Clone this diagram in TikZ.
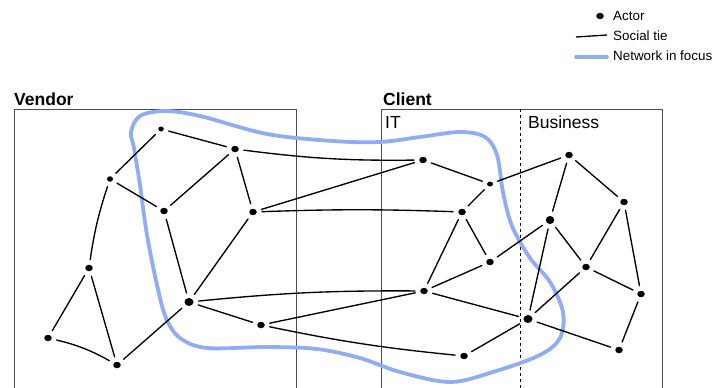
\documentclass[tikz,border=0pt]{standalone}
\usepackage{fontspec}
\setmainfont{Liberation Sans}
\usetikzlibrary{shapes.geometric}
\begin{document}
\begin{tikzpicture}[x=1pt,y=-1pt,
  actor/.style={ellipse,fill=black,inner sep=0pt,minimum width=7.5pt,minimum height=6.5pt},
  tie/.style={line width=1.35pt,line cap=round,shorten >=5pt,shorten <=5pt},
  frame/.style={draw=black!70,line width=0.7pt},
  focus/.style={draw=focusblue,line width=3.8pt},
  lbl/.style={font=\fontsize{17.5}{19}\selectfont\bfseries,anchor=base west,inner sep=0pt},
  sub/.style={font=\fontsize{17.5}{19}\selectfont,anchor=base west,inner sep=0pt},
  leg/.style={font=\fontsize{13.4}{15}\selectfont,anchor=west,inner sep=0pt}]
\definecolor{focusblue}{RGB}{143,172,245}
\useasboundingbox (0,0) rectangle (718,388);
% frames
\draw[frame] (14,389) -- (14,109) -- (296,109) -- (296,389);
\draw[frame] (381,389) -- (381,109) -- (662,109) -- (662,389);
\draw[black,line width=0.7pt,dashed] (520,109) -- (520,389);
\node[lbl] (vendor) at (14,105) {Vendor};
\node[lbl] (client) at (383,105) {Client};
\node[sub] (it) at (385,128) {IT};
\node[sub] (business) at (528,128) {Business};
% legend
\node[actor] (legdot) at (600,16) {};
\node[leg] (legactor) at (613,16) {Actor};
\coordinate (lt1) at (576,37); \coordinate (lt2) at (607,35);
\draw[line width=1.3pt] (lt1) -- (lt2);
\node[leg] (legtie) at (613,36) {Social tie};
\coordinate (lb1) at (576,57); \coordinate (lb2) at (607,57);
\draw[focus,line cap=round] (lb1) -- (lb2);
\node[leg] (legfocus) at (613,56) {Network in focus};
% focus curve
\draw[focus] plot[smooth cycle,tension=0.55] coordinates {
(131,132) (140,116) (165,111) (200,116) (267,134) (333,141) (380,142) (420,137)
(460,132) (485,137) (497,155) (503,192) (512,226) (530,258) (550,282) (563,312)
(560,338) (540,355) (493,372) (450,382) (400,372) (360,358) (317,349) (267,347)
(207,348) (180,338) (166,318) (157,285) (147,235) (140,185) (134,148)};
% vendor actors
\node[actor,minimum width=5.5pt,minimum height=5pt] (v1) at (161,129) {};
\node[actor] (v2) at (235,149) {};
\node[actor,minimum width=6pt,minimum height=5.5pt] (v3) at (110,179) {};
\node[actor] (v4) at (164,211) {};
\node[actor] (v5) at (253,212) {};
\node[actor] (v6) at (89,268) {};
\node[actor,minimum width=9pt,minimum height=8pt] (v7) at (189,302) {};
\node[actor] (v8) at (261,325) {};
\node[actor] (v9) at (48,338) {};
\node[actor] (v10) at (117,365) {};
% client actors
\node[actor] (c1) at (423,160) {};
\node[actor,minimum width=6pt,minimum height=5pt] (c2) at (490,184) {};
\node[actor] (c3) at (462,212) {};
\node[actor] (c4) at (490,262) {};
\node[actor] (c5) at (424,291) {};
\node[actor,minimum width=9pt,minimum height=8pt] (c6) at (528,319) {};
\node[actor] (c7) at (464,356) {};
\node[actor] (b1) at (569,155) {};
\node[actor] (b2) at (624,202) {};
\node[actor,minimum width=8.5pt,minimum height=8pt] (b3) at (550,220) {};
\node[actor] (b4) at (586,267) {};
\node[actor] (b5) at (641,294) {};
\node[actor] (b6) at (619,350) {};
% ties
\draw[tie] (v1) -- (v2);
\draw[tie] (v1) -- (v3);
\draw[tie] (v3) -- (v4);
\draw[tie] (v3) to[bend right=5] (v6);
\draw[tie] (v2) -- (v4);
\draw[tie] (v2) -- (v5);
\draw[tie] (v4) -- (v7);
\draw[tie] (v5) -- (v7);
\draw[tie] (v6) -- (v9);
\draw[tie] (v6) -- (v10);
\draw[tie] (v9) to[bend left=8] (v10);
\draw[tie] (v7) -- (v10);
\draw[tie] (v7) -- (v8);
\draw[tie] (v2) to[bend right=4] (c1);
\draw[tie] (v5) -- (c1);
\draw[tie] (v5) to[bend left=2] (c3);
\draw[tie] (v7) to[bend left=3] (c5);
\draw[tie] (v8) -- (c5);
\draw[tie] (v8) to[bend right=3] (c7);
\draw[tie] (c1) -- (c2);
\draw[tie] (c2) -- (c3);
\draw[tie] (c2) -- (b1);
\draw[tie] (c3) -- (c5);
\draw[tie] (c3) -- (c4);
\draw[tie] (c4) -- (c5);
\draw[tie] (c4) -- (b3);
\draw[tie] (c5) -- (c6);
\draw[tie] (c6) -- (c7);
\draw[tie] (c6) -- (b3);
\draw[tie] (c6) -- (b4);
\draw[tie] (c6) -- (b6);
\draw[tie] (b1) -- (b3);
\draw[tie] (b1) -- (b2);
\draw[tie] (b2) -- (b4);
\draw[tie] (b2) -- (b5);
\draw[tie] (b3) -- (b4);
\draw[tie] (b4) -- (b5);
\draw[tie] (b5) -- (b6);
\end{tikzpicture}
\end{document}
